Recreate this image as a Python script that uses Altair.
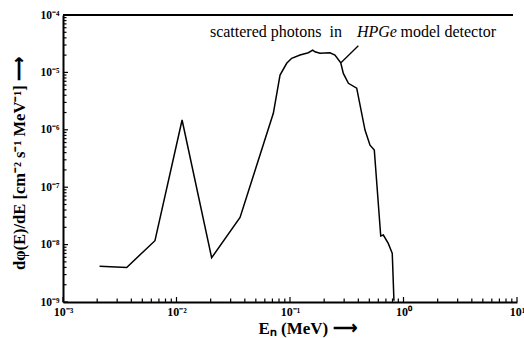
import json
import altair as alt
import pandas as pd

# ---- data ----
energy_mev = [0.0021, 0.00364, 0.00646, 0.0112, 0.0204, 0.0363, 0.0713, 0.0817,
              0.0935, 0.1035, 0.1225, 0.145, 0.1585, 0.166, 0.1835, 0.225, 0.249,
              0.28, 0.295, 0.327, 0.387, 0.458, 0.507, 0.553, 0.63, 0.664, 0.734,
              0.796, 0.824]
flux = [4.2e-9, 4.0e-9, 1.17e-8, 1.48e-6, 5.9e-9, 2.98e-8, 1.94e-6, 9.0e-6,
        1.44e-5, 1.76e-5, 2.01e-5, 2.2e-5, 2.45e-5, 2.29e-5, 2.15e-5, 2.2e-5, 2.01e-5,
        1.47e-5, 9.6e-6, 6.46e-6, 5.3e-6, 9.9e-7, 5.4e-7, 4.45e-7, 1.41e-8, 1.47e-8,
        1.05e-8, 7.05e-9, 1.05e-9]

x_major = [1e-3, 1e-2, 1e-1, 1.0, 10.0]
x_labels = ["10⁻³", "10⁻²", "10⁻¹", "10⁰", "10¹"]
y_major = [1e-9, 1e-8, 1e-7, 1e-6, 1e-5, 1e-4]
y_labels = ["10⁻⁹", "10⁻⁸", "10⁻⁷", "10⁻⁶", "10⁻⁵", "10⁻⁴"]

ann_text = ["scattered photons\u00a0\u00a0in", "HPGe", "model detector"]
ann_x = [0.0197, 0.389, 0.94]
ann_y = [4.06e-5, 4.06e-5, 4.06e-5]
leader_x = [0.281, 0.40]
leader_y = [1.47e-5, 2.92e-5]

x_title = "Eₙ (MeV)  ⟶"
y_title = "dφ(E)/dE [cm⁻² s⁻¹ MeV⁻¹]  ⟶"

W, H = 454, 287
FONT = "Liberation Serif"
X0, X1, Y0, Y1 = 1e-3, 10.0, 1e-9, 1e-4
PX_PER_DEC_X = W / 4.0
PX_PER_DEC_Y = H / 5.0

x_minor = [m * d for d in x_major[:-1] for m in range(2, 10)]
y_minor = [m * d for d in y_major[:-1] for m in range(2, 10)]

xscale = alt.Scale(type="log", domain=[X0, X1])
yscale = alt.Scale(type="log", domain=[Y0, Y1])

x_expr = json.dumps(x_labels, ensure_ascii=False) + "[round(log(datum.value)/LN10)+3]"
y_expr = json.dumps(y_labels, ensure_ascii=False) + "[round(log(datum.value)/LN10)+9]"

x_axis = alt.Axis(values=x_major, labelExpr=x_expr, ticks=False, grid=False,
                  domainColor="black", domainWidth=2, labelFont=FONT,
                  labelFontSize=12, labelFontWeight="bold", labelColor="black",
                  labelPadding=4, labelFlush=False,
                  title=x_title, titleFont=FONT, titleFontSize=17,
                  titleFontWeight="bold", titleColor="black",
                  titleX=244, titleY=26, titleAlign="center", titleBaseline="middle")
y_axis = alt.Axis(values=y_major, labelExpr=y_expr, ticks=False, grid=False,
                  domainColor="black", domainWidth=2, labelFont=FONT,
                  labelFontSize=11.5, labelFontWeight="bold", labelColor="black",
                  labelPadding=4, labelFlush=False,
                  title=y_title, titleFont=FONT, titleFontSize=16.5,
                  titleFontWeight="bold", titleColor="black",
                  titleX=-44, titleY=148, titleAngle=-90, titleAlign="center",
                  titleBaseline="middle")

df = pd.DataFrame({"E": energy_mev, "F": flux})

line = alt.Chart(df).mark_line(color="black", strokeWidth=1.5, clip=True).encode(
    x=alt.X("E:Q", scale=xscale, axis=x_axis),
    y=alt.Y("F:Q", scale=yscale, axis=y_axis),
    order=alt.Order("idx:Q"),
).transform_window(idx="row_number()")

# tick segments (inward), expressed in data space so they pass through the scales
rows = []
for v in x_major + x_minor:
    ln = 5 if v in x_major else 3.5
    rows.append({"x": v, "x2": v, "y": Y0, "y2": Y0 * 10 ** (ln / PX_PER_DEC_Y)})
for v in y_major + y_minor:
    ln = 5 if v in y_major else 3.5
    rows.append({"x": X0, "x2": X0 * 10 ** (ln / PX_PER_DEC_X), "y": v, "y2": v})
ticks = alt.Chart(pd.DataFrame(rows)).mark_rule(color="black", strokeWidth=1.2).encode(
    x=alt.X("x:Q", scale=xscale, axis=x_axis), x2="x2:Q",
    y=alt.Y("y:Q", scale=yscale, axis=y_axis), y2="y2:Q")

top = alt.Chart(pd.DataFrame({"a": [0]})).mark_rule(color="black", strokeWidth=2).encode(
    x=alt.value(0), x2=alt.value(W - 4), y=alt.value(0))

leader = alt.Chart(pd.DataFrame({"x": [leader_x[0]], "x2": [leader_x[1]],
                                 "y": [leader_y[0]], "y2": [leader_y[1]]})).mark_rule(
    color="black", strokeWidth=1.3).encode(
    x=alt.X("x:Q", scale=xscale, axis=x_axis), x2="x2:Q",
    y=alt.Y("y:Q", scale=yscale, axis=y_axis), y2="y2:Q")

texts = []
for i, t in enumerate(ann_text):
    texts.append(
        alt.Chart(pd.DataFrame({"t": [t], "x": [ann_x[i]], "y": [ann_y[i]]})).mark_text(
            align="left", baseline="alphabetic", font=FONT, fontSize=16, color="black",
            fontStyle="italic" if i == 1 else "normal").encode(
            x=alt.X("x:Q", scale=xscale, axis=x_axis),
            y=alt.Y("y:Q", scale=yscale, axis=y_axis),
            text="t:N"))

chart = alt.layer(
    line, ticks, top, leader, *texts,
).properties(
    width=W, height=H,
    autosize=alt.AutoSizeParams(type="none"),
    padding={"left": 63, "top": 15, "right": 7, "bottom": 36},
    background="white",
).configure_view(stroke=None)

chart.save("out.html", embed_options={"renderer": "svg", "actions": False})
